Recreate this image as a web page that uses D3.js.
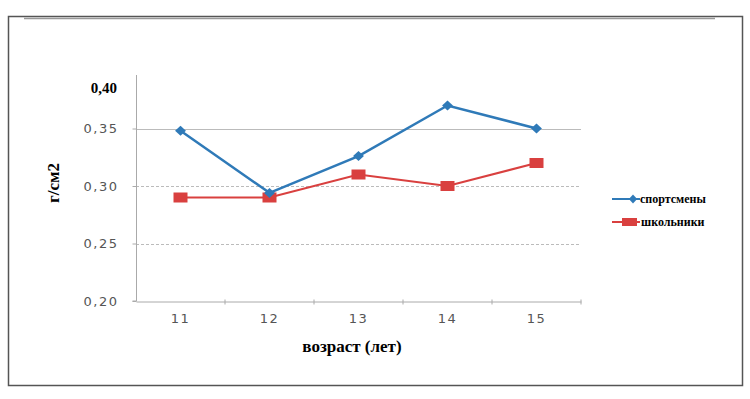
<!DOCTYPE html>
<html>
<head>
<meta charset="utf-8">
<script src="https://cdn.jsdelivr.net/npm/d3@7"></script>
<style>
  body { margin: 0; background: #fff; }
</style>
</head>
<body>
<div id="chart"></div>
<script>
// ages and density values (g/cm2)
const ages = ['11', '12', '13', '14', '15'];
const sportsmen = [0.348, 0.294, 0.326, 0.370, 0.350];
const pupils = [0.290, 0.290, 0.310, 0.300, 0.320];
const yTicks = [0.20, 0.25, 0.30, 0.35];
const seriesNames = ['спортсмены', 'школьники'];

const width = 750, height = 399;
const margin = { top: 71, left: 136, right: 169, bottom: 98 };

const svg = d3.select('#chart').append('svg')
    .attr('width', width)
    .attr('height', height);

// outer frame
svg.append('rect')
    .attr('x', 8.5).attr('y', 16.5)
    .attr('width', 734).attr('height', 369)
    .attr('fill', 'none')
    .attr('stroke', '#555')
    .attr('stroke-width', 1.5);
svg.append('line')
    .attr('x1', 24).attr('x2', 715)
    .attr('y1', 18.5).attr('y2', 18.5)
    .attr('stroke', '#999')
    .attr('stroke-width', 1.5);

const x = d3.scaleBand()
    .domain(ages)
    .range([margin.left, width - margin.right]);

const y = d3.scaleLinear()
    .domain([0.20, 0.40])
    .range([height - margin.bottom, margin.top]);

const fmt = d => d3.format('.2f')(d).replace('.', ',');

// gridlines
svg.append('g')
    .selectAll('line')
    .data(yTicks.slice(1))
    .join('line')
    .attr('x1', margin.left)
    .attr('x2', width - margin.right)
    .attr('y1', d => Math.round(y(d)) + 0.5)
    .attr('y2', d => Math.round(y(d)) + 0.5)
    .attr('stroke', '#bbb')
    .attr('stroke-dasharray', (d, i) => i === 2 ? null : '3,2');

// y axis
const yAxis = svg.append('g')
    .attr('transform', `translate(${margin.left + 0.5},0)`)
    .call(d3.axisLeft(y).tickValues(yTicks).tickFormat(fmt).tickSize(4));
yAxis.select('.domain').attr('stroke', '#aaa').attr('d', `M-4,${y(0.20)}H0V${margin.top + 4}`);
yAxis.selectAll('.tick line').attr('stroke', '#aaa');
yAxis.selectAll('.tick text')
    .attr('x', -18)
    .attr('fill', '#555')
    .style('font-family', 'DejaVu Sans')
    .style('font-size', '13px')
    .style('letter-spacing', '1.5px');

// the 0,40 label sits a bit lower in bold serif
svg.append('text')
    .attr('x', 117)
    .attr('y', y(0.40) + 17)
    .attr('dy', '0.35em')
    .attr('text-anchor', 'end')
    .style('font-family', 'Liberation Serif')
    .style('font-weight', 'bold')
    .style('font-size', '15px')
    .text(fmt(0.40));

// x axis
const xAxis = svg.append('g')
    .attr('transform', `translate(0,${Math.round(y(0.20)) + 0.5})`)
    .call(d3.axisBottom(x).tickSize(0).tickPadding(12));
xAxis.select('.domain').attr('stroke', '#aaa');
xAxis.selectAll('.tick text')
    .attr('fill', '#555')
    .style('font-family', 'DejaVu Sans')
    .style('font-size', '13px')
    .style('letter-spacing', '1.5px');
xAxis.selectAll('.bound')
    .data(d3.range(1, ages.length + 1))
    .join('line')
    .attr('x1', i => margin.left + i * x.bandwidth())
    .attr('x2', i => margin.left + i * x.bandwidth())
    .attr('y1', -2).attr('y2', 3)
    .attr('stroke', '#aaa');

// axis titles
svg.append('text')
    .attr('x', 352)
    .attr('y', 352)
    .attr('text-anchor', 'middle')
    .style('font-family', 'Liberation Serif')
    .style('font-weight', 'bold')
    .style('font-size', '17px')
    .text('возраст (лет)');

svg.append('text')
    .attr('transform', 'translate(59,183) rotate(-90)')
    .attr('text-anchor', 'middle')
    .style('font-family', 'Liberation Serif')
    .style('font-weight', 'bold')
    .style('font-size', '17px')
    .text('г/см2');

const cx = (d, i) => x(ages[i]) + x.bandwidth() / 2;
const line = d3.line().x(cx).y(d => y(d));

const blue = '#2f7ab8', red = '#d9403f';

svg.append('path')
    .datum(pupils)
    .attr('d', line)
    .attr('fill', 'none')
    .attr('stroke', red)
    .attr('stroke-width', 2);
svg.append('g')
    .selectAll('rect')
    .data(pupils)
    .join('rect')
    .attr('x', (d, i) => cx(d, i) - 7)
    .attr('y', d => y(d) - 5)
    .attr('width', 14).attr('height', 10)
    .attr('fill', red);

svg.append('path')
    .datum(sportsmen)
    .attr('d', line)
    .attr('fill', 'none')
    .attr('stroke', blue)
    .attr('stroke-width', 2.5);
svg.append('g')
    .selectAll('path')
    .data(sportsmen)
    .join('path')
    .attr('d', d3.symbol(d3.symbolDiamond, 40))
    .attr('transform', (d, i) => `translate(${cx(d, i)},${y(d)}) scale(1.6,0.85)`)
    .attr('fill', blue);

// legend
const legend = svg.append('g').attr('transform', 'translate(612,199)');
legend.append('line').attr('x1', 0).attr('x2', 28).attr('stroke', blue).attr('stroke-width', 2);
legend.append('path').attr('d', d3.symbol(d3.symbolDiamond, 30)).attr('transform', 'translate(21,0) scale(1.4,0.9)').attr('fill', blue);
legend.append('line').attr('x1', 0).attr('x2', 28).attr('y1', 23).attr('y2', 23).attr('stroke', red).attr('stroke-width', 2);
legend.append('rect').attr('x', 10).attr('y', 19).attr('width', 15).attr('height', 8).attr('fill', red);
legend.selectAll('text')
    .data(seriesNames)
    .join('text')
    .attr('x', (d, i) => i === 0 ? 28 : 29)
    .attr('y', (d, i) => i * 23)
    .attr('dy', '0.35em')
    .style('font-family', 'Liberation Serif')
    .style('font-weight', 'bold')
    .style('font-size', '12px')
    .text(d => d);
</script>
</body>
</html>
